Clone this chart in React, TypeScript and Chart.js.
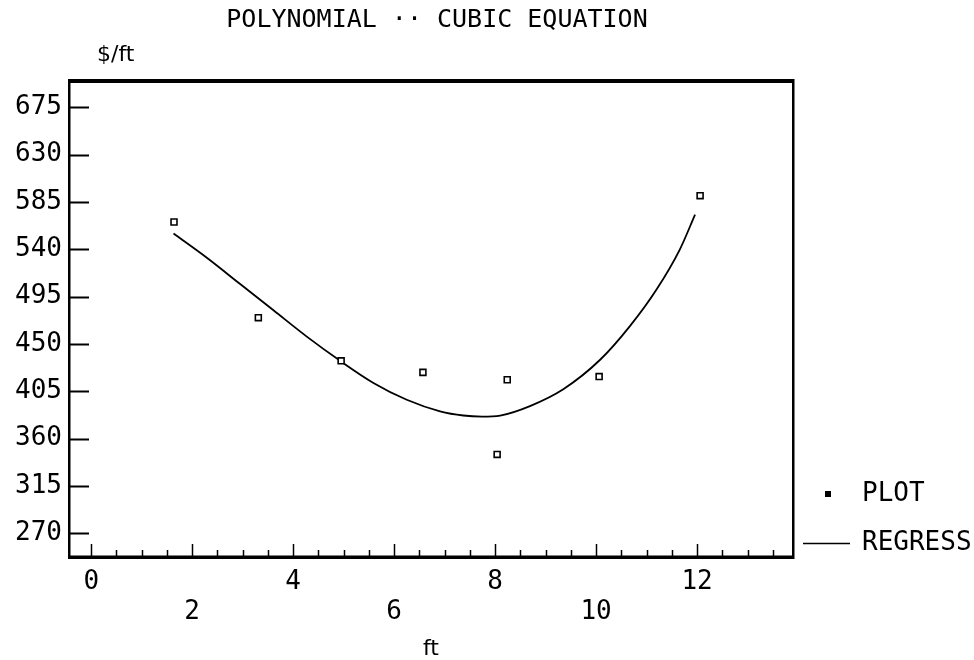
import React, { useEffect, useRef } from "react";
import { Chart, registerables } from "chart.js";

Chart.register(...registerables);

const TITLE = "POLYNOMIAL ·· CUBIC EQUATION";
const Y_TITLE = "$/ft";
const X_TITLE = "ft";
const LEGEND_PLOT = "PLOT";
const LEGEND_REGRESS = "REGRESS";

const yTicks = [270, 315, 360, 405, 450, 495, 540, 585, 630, 675];
const xLabelTicks = [0, 2, 4, 6, 8, 10, 12];
const xTickValues = [
  0, 0.5, 1, 1.5, 2, 2.5, 3, 3.5, 4, 4.5, 5, 5.5, 6, 6.5, 7, 7.5, 8, 8.5, 9, 9.5,
  10, 10.5, 11, 11.5, 12, 12.5, 13, 13.5,
];

const plotX = [1.64, 3.31, 4.95, 6.57, 8.04, 8.24, 10.06, 12.06];
const plotY = [566, 475, 434, 423, 345, 416, 419, 591];

const regressX = [
  1.63, 2.29, 2.95, 3.61, 4.27, 4.93, 5.59, 6.25, 6.91, 7.37, 7.74, 8.1, 8.69,
  9.35, 10.08, 10.67, 11.2, 11.66, 11.96,
];
const regressY = [
  555, 532, 507, 482, 457, 434, 413, 397, 386, 382, 381, 382, 391, 407, 435, 467,
  502, 540, 573,
];

const MONO = "'DejaVu Sans Mono', monospace";

const decor = {
  id: "decor",
  afterDraw(chart: any) {
    const { ctx, chartArea: a, scales } = chart;
    const xs = scales.x;
    const ys = scales.y;
    ctx.save();
    ctx.strokeStyle = "#000";
    ctx.fillStyle = "#000";
    const line = (x1: number, y1: number, x2: number, y2: number) => {
      ctx.beginPath();
      ctx.moveTo(x1, y1);
      ctx.lineTo(x2, y2);
      ctx.stroke();
    };
    // inward y ticks
    ctx.lineWidth = 2;
    yTicks.forEach((v) => {
      const py = Math.round(ys.getPixelForValue(v)) + 0.5;
      line(a.left, py, a.left + 20, py);
    });
    // inward x ticks
    ctx.lineWidth = 1.5;
    xTickValues.forEach((v) => {
      const px = Math.round(xs.getPixelForValue(v)) + 0.5;
      const len = v % 2 === 0 ? 13 : 7;
      line(px, a.bottom, px, a.bottom - len);
    });
    // frame
    ctx.fillRect(a.left - 1, a.top - 2, a.right - a.left + 2, 4); // top
    ctx.fillRect(a.left - 1, a.bottom - 1.5, a.right - a.left + 2, 3.5); // bottom
    ctx.fillRect(a.left - 1, a.top - 2, 2.5, a.bottom - a.top + 4); // left
    ctx.fillRect(a.right - 1, a.top - 2, 2.5, a.bottom - a.top + 4); // right

    // title
    ctx.textBaseline = "middle";
    ctx.textAlign = "center";
    ctx.font = `25px ${MONO}`;
    ctx.fillText(TITLE, (a.left + a.right) / 2 + 6, a.top - 61);

    // axis titles
    ctx.font = "22px 'DejaVu Sans', sans-serif";
    ctx.textAlign = "left";
    ctx.fillText(Y_TITLE, a.left + 28, a.top - 26);
    ctx.textAlign = "center";
    ctx.fillText(X_TITLE, (a.left + a.right) / 2, a.bottom + 92);

    // legend
    ctx.font = `26px ${MONO}`;
    ctx.textAlign = "left";
    const yPlot = a.bottom - 63;
    const yReg = a.bottom - 14;
    ctx.fillRect(a.right + 32, yPlot - 3, 6, 6);
    ctx.fillText(LEGEND_PLOT, a.right + 69, yPlot);
    ctx.lineWidth = 1.5;
    line(a.right + 10, yReg + 0.5, a.right + 57, yReg + 0.5);
    ctx.fillText(LEGEND_REGRESS, a.right + 69, yReg);
    ctx.restore();
  },
};

export default function App() {
  const ref = useRef<HTMLCanvasElement | null>(null);
  useEffect(() => {
    if (!ref.current) return;
    const chart = new Chart(ref.current, {
      type: "scatter",
      data: {
        datasets: [
          {
            label: "PLOT",
            data: plotX.map((x, i) => ({ x, y: plotY[i] })),
            pointStyle: "rect",
            pointRadius: 4.2,
            pointBorderWidth: 1.6,
            pointBorderColor: "#000",
            pointBackgroundColor: "#fff",
            showLine: false,
          },
          {
            label: "REGRESS",
            data: regressX.map((x, i) => ({ x, y: regressY[i] })),
            showLine: true,
            borderColor: "#000",
            borderWidth: 1.8,
            pointRadius: 0,
            cubicInterpolationMode: "monotone",
            fill: false,
          },
        ],
      },
      options: {
        animation: false,
        responsive: false,
        maintainAspectRatio: false,
        layout: { padding: { top: 81, right: 181, bottom: 0, left: 0 } },
        plugins: {
          legend: { display: false },
          title: { display: false },
          tooltip: { enabled: false },
        },
        scales: {
          x: {
            type: "linear",
            min: -0.44,
            max: 13.9,
            grid: { display: false, drawTicks: false },
            border: { display: false },
            afterBuildTicks: (scale: any) => {
              scale.ticks = xTickValues.map((v) => ({ value: v }));
            },
            afterFit: (scale: any) => {
              scale.height = 103;
            },
            ticks: {
              autoSkip: false,
              maxRotation: 0,
              minRotation: 0,
              padding: 10,
              color: "#000",
              font: { family: MONO, size: 26, lineHeight: "30px" },
              callback: (v: any) => {
                const n = Number(v);
                if (!xLabelTicks.includes(n)) return "";
                return n % 4 === 0 ? [String(n), ""] : ["", String(n)];
              },
            },
          },
          y: {
            type: "linear",
            min: 247.5,
            max: 700,
            grid: { display: false, drawTicks: false },
            border: { display: false },
            afterBuildTicks: (scale: any) => {
              scale.ticks = yTicks.map((v) => ({ value: v }));
            },
            afterFit: (scale: any) => {
              scale.width = 69;
            },
            ticks: {
              padding: 7,
              color: "#000",
              font: { family: MONO, size: 26 },
              callback: (v: any) => String(v),
            },
          },
        },
      } as any,
      plugins: [decor],
    });
    return () => chart.destroy();
  }, []);
  return (
    <div style={{ position: "fixed", left: 0, top: 0, width: 974, height: 660, background: "#fff" }}>
      <canvas ref={ref} width={974} height={660} style={{ display: "block", width: 974, height: 660 }} />
    </div>
  );
}
